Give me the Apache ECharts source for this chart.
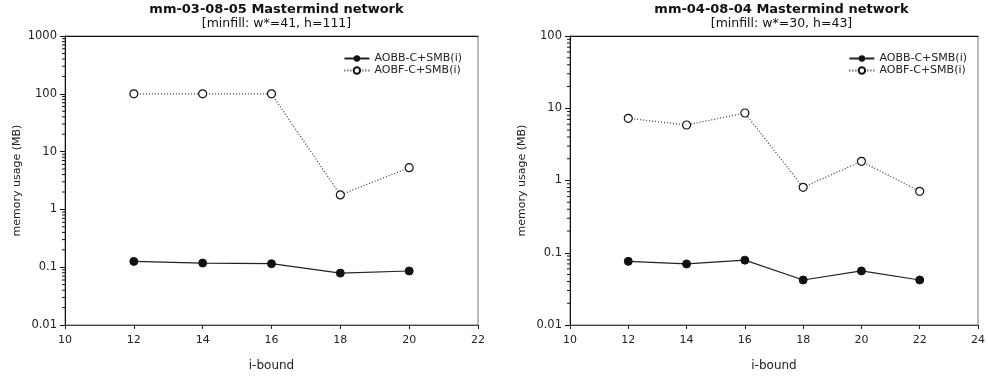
<!DOCTYPE html>
<html><head><meta charset="utf-8">
<script src="https://cdn.jsdelivr.net/npm/echarts@6/dist/echarts.min.js"></script>
<style>html,body{margin:0;padding:0;background:#fff}#c{width:988px;height:377px}</style>
</head><body><div id="c"></div>
<script>
const xLeft = [12, 14, 16, 18, 20];
const aobbLeft = [0.126, 0.118, 0.115, 0.079, 0.086];
const aobfLeft = [100, 100, 100, 1.78, 5.27];
const xRight = [12, 14, 16, 18, 20, 22];
const aobbRight = [0.076, 0.070, 0.079, 0.042, 0.056, 0.042];
const aobfRight = [7.26, 5.86, 8.6, 0.805, 1.84, 0.708];
const titles = ['mm-03-08-05 Mastermind network', 'mm-04-08-04 Mastermind network'];
const subtitles = ['[minfill: w*=41, h=111]', '[minfill: w*=30, h=43]'];
const yMax = [1000, 100];
const xMax = [22, 24];
const yMin = 0.01;
const nameA = 'AOBB-C+SMB(i)';
const nameF = 'AOBF-C+SMB(i)';

const chart = echarts.init(document.getElementById('c'));
const FONT = '"Liberation Sans", Arial, sans-serif';
const WFONT = '"DejaVu Sans", sans-serif';
const grids = [
  {left: 65, top: 36, width: 413, height: 289},
  {left: 570, top: 36, width: 413, height: 289}
];
function minorVals(max){
  const out = [];
  for (let d = yMin; d < max * 0.999; d *= 10) {
    for (let k = 2; k <= 9; k++) out.push(+(d * k).toPrecision(3));
  }
  return out;
}
const option = {
  animation: false,
  textStyle: {fontFamily: FONT},
  title: [0, 1].map(i => ({
    text: titles[i], subtext: subtitles[i],
    left: grids[i].left + grids[i].width / 2, textAlign: 'center', top: -2,
    itemGap: 1,
    textStyle: {fontSize: 13, fontWeight: 'bold', color: '#111', fontFamily: WFONT},
    subtextStyle: {fontSize: 12.5, color: '#111', fontFamily: WFONT}
  })),
  legend: [0, 1].map(i => ({
    data: [nameA, nameF],
    orient: 'vertical',
    right: 988 - (grids[i].left + grids[i].width) + 11,
    top: 48, itemWidth: 25, itemHeight: 8, itemGap: 1,
    textStyle: {fontSize: 11, color: '#222', fontFamily: WFONT},
    seriesIndex: [i * 3, i * 3 + 1]
  })),
  grid: grids.map(g => Object.assign({}, g, {show: true, borderColor: '#777', borderWidth: 1})),
  xAxis: [0, 1].flatMap(i => [{
    gridIndex: i, type: 'value', min: 10, max: xMax[i], interval: 2,
    name: 'i-bound', nameLocation: 'middle', nameGap: 35,
    nameTextStyle: {fontSize: 12, color: '#222', fontFamily: WFONT},
    axisLine: {lineStyle: {color: '#444'}},
    axisTick: {lineStyle: {color: '#222'}, length: 4},
    axisLabel: {fontSize: 11, color: '#222', margin: 10, fontFamily: WFONT},
    splitLine: {show: false}
  }, {
    gridIndex: i, type: 'value', position: 'top', min: 10, max: xMax[i],
    axisLine: {show: true, lineStyle: {color: '#111'}},
    axisTick: {show: false}, axisLabel: {show: false}, splitLine: {show: false}
  }]),
  yAxis: [0, 1].map(i => ({
    gridIndex: i, type: 'log', logBase: 10, min: yMin, max: yMax[i],
    name: 'memory usage (MB)', nameLocation: 'middle', nameGap: 42,
    nameTextStyle: {fontSize: 11, color: '#222', fontFamily: WFONT},
    axisLine: {show: true, lineStyle: {color: '#111'}},
    axisTick: {show: true, length: 5, lineStyle: {color: '#111'}},
    axisLabel: {fontSize: 11.5, color: '#222', margin: 8, fontFamily: WFONT,
      formatter: v => String(+v.toPrecision(3))},
    splitLine: {show: false}
  })),
  series: []
};
[[xLeft, aobbLeft, aobfLeft], [xRight, aobbRight, aobfRight]].forEach((d, i) => {
  const [xs, a, f] = d;
  option.series.push({
    name: nameA, type: 'line', xAxisIndex: i * 2, yAxisIndex: i,
    data: xs.map((x, j) => [x, a[j]]),
    symbol: 'circle', symbolSize: 8,
    itemStyle: {color: '#111', borderColor: '#111'},
    lineStyle: {color: '#222', width: 1.2, type: 'solid'}, z: 3
  });
  option.series.push({
    name: nameF, type: 'line', xAxisIndex: i * 2, yAxisIndex: i,
    data: xs.map((x, j) => [x, f[j]]),
    symbol: 'circle', symbolSize: 8,
    itemStyle: {color: '#fff', borderColor: '#111', borderWidth: 1.2},
    lineStyle: {color: '#333', width: 1.2, type: [1, 2]}, z: 3
  });
  option.series.push({
    type: 'custom', xAxisIndex: i * 2, yAxisIndex: i, clip: false, silent: true,
    data: minorVals(yMax[i]).map(v => [10, v]),
    renderItem: (params, api) => {
      const p = api.coord([10, api.value(1)]);
      return {type: 'line', shape: {x1: p[0] - 3, y1: p[1], x2: p[0], y2: p[1]},
        style: {stroke: '#111', lineWidth: 1}};
    }
  });
});
chart.setOption(option);
</script></body></html>
